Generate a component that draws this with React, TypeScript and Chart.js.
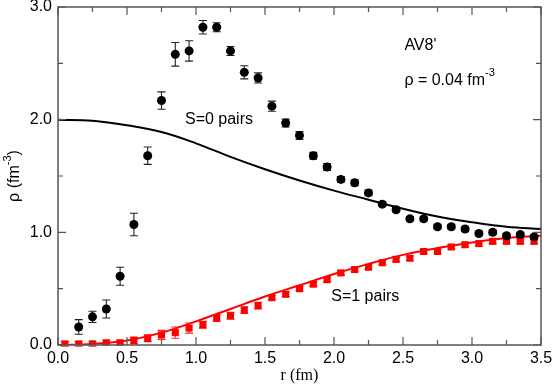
import React, { useEffect, useRef } from "react";
import { Chart, registerables } from "chart.js";

Chart.register(...registerables);

// S=0 pairs (black circles)
const s0X = [0.15, 0.25, 0.35, 0.45, 0.55, 0.65, 0.75, 0.85, 0.95, 1.05, 1.15, 1.25, 1.35, 1.45, 1.55, 1.65, 1.75, 1.85, 1.95, 2.05, 2.15, 2.25, 2.35, 2.45, 2.55, 2.65, 2.75, 2.85, 2.95, 3.05, 3.15, 3.25, 3.35, 3.45];
const s0Y = [0.16, 0.25, 0.32, 0.61, 1.07, 1.68, 2.17, 2.58, 2.61, 2.82, 2.82, 2.61, 2.42, 2.37, 2.12, 1.97, 1.86, 1.68, 1.58, 1.47, 1.44, 1.35, 1.25, 1.20, 1.12, 1.12, 1.05, 1.05, 1.03, 0.99, 1.00, 0.97, 0.98, 0.96];
const s0Err = [0.065, 0.05, 0.08, 0.08, 0.1, 0.077, 0.077, 0.105, 0.09, 0.06, 0.04, 0.04, 0.058, 0.045, 0.045, 0.035, 0.035, 0.03, 0.03, 0.025, 0.025, 0.025, 0.02, 0.02, 0.02, 0.02, 0.02, 0.02, 0.02, 0.02, 0.02, 0.02, 0.02, 0.02];

// S=1 pairs (red squares)
const s1X = [0.05, 0.15, 0.25, 0.35, 0.45, 0.55, 0.65, 0.75, 0.85, 0.95, 1.05, 1.15, 1.25, 1.35, 1.45, 1.55, 1.65, 1.75, 1.85, 1.95, 2.05, 2.15, 2.25, 2.35, 2.45, 2.55, 2.65, 2.75, 2.85, 2.95, 3.05, 3.15, 3.25, 3.35, 3.45];
const s1Y = [0.01, 0.01, 0.01, 0.02, 0.02, 0.04, 0.06, 0.09, 0.11, 0.15, 0.18, 0.24, 0.26, 0.31, 0.35, 0.42, 0.45, 0.50, 0.54, 0.58, 0.64, 0.67, 0.69, 0.73, 0.76, 0.77, 0.83, 0.83, 0.87, 0.89, 0.90, 0.92, 0.92, 0.92, 0.92];
const s1Err = [0.02, 0.02, 0.02, 0.02, 0.02, 0.03, 0.03, 0.04, 0.05, 0.045, 0.03, 0.03, 0.03, 0.03, 0.03, 0.02, 0.02, 0.02, 0.02, 0.02, 0.02, 0.02, 0.02, 0.02, 0.02, 0.02, 0.02, 0.02, 0.02, 0.02, 0.02, 0.02, 0.02, 0.02, 0.02];

// Solid curves
const curveX = [0, 0.25, 0.5, 0.75, 1.0, 1.25, 1.5, 1.75, 2.0, 2.25, 2.5, 2.75, 3.0, 3.25, 3.5];
const s0Curve = [2.0, 1.99, 1.95, 1.89, 1.79, 1.67, 1.56, 1.46, 1.37, 1.29, 1.21, 1.14, 1.09, 1.05, 1.03];
const s1Curve = [0.0, 0.01, 0.04, 0.11, 0.21, 0.32, 0.43, 0.53, 0.63, 0.72, 0.80, 0.86, 0.91, 0.95, 0.97];

// Axes ticks
const xMajor = [0, 0.5, 1.0, 1.5, 2.0, 2.5, 3.0, 3.5];
const xMinor = [0.25, 0.75, 1.25, 1.75, 2.25, 2.75, 3.25];
const yMajor = [0, 1, 2, 3];
const yMinor = [0.5, 1.5, 2.5];

const SANS = "'Liberation Sans', Arial, Helvetica, sans-serif";
const SERIF = "'Liberation Serif', 'Times New Roman', serif";
const FRAME = "#555";

const pts = (xs: number[], ys: number[]) => xs.map((x, i) => ({ x, y: ys[i] }));

function drawSup(ctx: CanvasRenderingContext2D, x: number, y: number, base: string, sup: string, tail: string, size: number) {
  ctx.font = `${size}px ${SANS}`;
  ctx.textAlign = "left";
  ctx.textBaseline = "middle";
  ctx.fillText(base, x, y);
  let w = ctx.measureText(base).width;
  ctx.font = `${Math.round(size * 0.68)}px ${SANS}`;
  ctx.fillText(sup, x + w, y - 7);
  w += ctx.measureText(sup).width;
  if (tail) {
    ctx.font = `${size}px ${SANS}`;
    ctx.fillText(tail, x + w, y);
  }
}

function measureSup(ctx: CanvasRenderingContext2D, base: string, sup: string, tail: string, size: number) {
  ctx.font = `${size}px ${SANS}`;
  let w = ctx.measureText(base).width + ctx.measureText(tail).width;
  ctx.font = `${Math.round(size * 0.68)}px ${SANS}`;
  w += ctx.measureText(sup).width;
  return w;
}

const errorBarPlugin = {
  id: "errorBars",
  beforeDatasetDraw(chart: any, args: any) {
    const ds = chart.data.datasets[args.index];
    if (!ds.errors) return;
    const ctx = chart.ctx;
    const xs = chart.scales.x;
    const ys = chart.scales.y;
    ctx.save();
    ctx.strokeStyle = ds.errColor;
    ctx.lineWidth = 1.1;
    ds.data.forEach((p: any, i: number) => {
      const e = ds.errors[i];
      const px = xs.getPixelForValue(p.x);
      const y1 = ys.getPixelForValue(p.y - e);
      const y2 = ys.getPixelForValue(p.y + e);
      ctx.beginPath();
      ctx.moveTo(px, y1);
      ctx.lineTo(px, y2);
      ctx.moveTo(px - 4, y1);
      ctx.lineTo(px + 4, y1);
      ctx.moveTo(px - 4, y2);
      ctx.lineTo(px + 4, y2);
      ctx.stroke();
    });
    ctx.restore();
  },
};

const framePlugin = {
  id: "frame",
  afterDraw(chart: any) {
    const ctx = chart.ctx;
    const { left, right, top, bottom } = chart.chartArea;
    const xs = chart.scales.x;
    const ys = chart.scales.y;
    ctx.save();
    ctx.strokeStyle = FRAME;
    ctx.lineWidth = 1.5;
    ctx.strokeRect(left, top, right - left, bottom - top);
    ctx.lineWidth = 1.2;
    ctx.beginPath();
    const xt = (v: number, len: number) => {
      const px = xs.getPixelForValue(v);
      ctx.moveTo(px, bottom);
      ctx.lineTo(px, bottom - len);
      ctx.moveTo(px, top);
      ctx.lineTo(px, top + len);
    };
    const yt = (v: number, len: number) => {
      const py = ys.getPixelForValue(v);
      ctx.moveTo(left, py);
      ctx.lineTo(left + len, py);
      ctx.moveTo(right, py);
      ctx.lineTo(right - len, py);
    };
    xMajor.forEach((v) => xt(v, 8));
    xMinor.forEach((v) => xt(v, 5));
    yMajor.forEach((v) => yt(v, 8));
    yMinor.forEach((v) => yt(v, 5));
    ctx.stroke();

    // annotations
    ctx.fillStyle = "#000";
    ctx.font = `16px ${SANS}`;
    ctx.textAlign = "left";
    ctx.textBaseline = "middle";
    ctx.fillText("S=0 pairs", xs.getPixelForValue(0.92), ys.getPixelForValue(2.0));
    ctx.fillText("S=1 pairs", xs.getPixelForValue(1.98), ys.getPixelForValue(0.43));
    ctx.fillText("AV8'", xs.getPixelForValue(2.51), ys.getPixelForValue(2.66));
    drawSup(ctx, xs.getPixelForValue(2.51), ys.getPixelForValue(2.35), "\u03c1 = 0.04 fm", "-3", "", 16);

    // axis titles
    ctx.font = `16px ${SERIF}`;
    ctx.textAlign = "center";
    ctx.textBaseline = "middle";
    ctx.fillText("r (fm)", (left + right) / 2, 376);

    ctx.save();
    ctx.translate(15, (top + bottom) / 2);
    ctx.rotate(-Math.PI / 2);
    const w = measureSup(ctx, "\u03c1 (fm", "-3", ")", 16);
    drawSup(ctx, -w / 2, 0, "\u03c1 (fm", "-3", ")", 16);
    ctx.restore();
    ctx.restore();
  },
};

export default function App() {
  const ref = useRef<HTMLCanvasElement | null>(null);
  useEffect(() => {
    if (!ref.current) return;
    Chart.defaults.font.family = SANS;
    const chart = new Chart(ref.current, {
      type: "scatter",
      data: {
        datasets: [
          {
            label: "S=0 data",
            data: pts(s0X, s0Y),
            pointStyle: "circle",
            pointRadius: 4.5,
            pointBackgroundColor: "#000",
            pointBorderWidth: 0,
            order: 0,
            errors: s0Err,
            errColor: "#222",
          } as any,
          {
            type: "line",
            label: "S=0 curve",
            data: pts(curveX, s0Curve),
            borderColor: "#000",
            borderWidth: 2,
            pointRadius: 0,
            tension: 0.4,
            fill: false,
            order: 1,
          } as any,
          {
            label: "S=1 data",
            data: pts(s1X, s1Y),
            pointStyle: "rect",
            pointRadius: 5,
            pointBackgroundColor: "#ff0000",
            pointBorderWidth: 0,
            order: 2,
            errors: s1Err,
            errColor: "#ff2020",
          } as any,
          {
            type: "line",
            label: "S=1 curve",
            data: pts(curveX, s1Curve),
            borderColor: "#ff0000",
            borderWidth: 2,
            pointRadius: 0,
            tension: 0.4,
            fill: false,
            order: 3,
          } as any,
        ],
      },
      options: {
        responsive: false,
        animation: false,
        layout: { padding: { top: 7, right: 13, left: 0, bottom: 0 } },
        plugins: { legend: { display: false }, tooltip: { enabled: false } },
        scales: {
          x: {
            type: "linear",
            min: 0,
            max: 3.5,
            grid: { display: false, drawTicks: false },
            border: { display: false },
            afterBuildTicks: (s: any) => {
              s.ticks = xMajor.map((v) => ({ value: v }));
            },
            afterFit: (s: any) => {
              s.height = 40;
              s.paddingLeft = 0;
              s.paddingRight = 0;
            },
            ticks: {
              padding: 4,
              color: "#000",
              font: { size: 16 },
              maxRotation: 0,
              callback: (v: any) => Number(v).toFixed(1),
            },
          },
          y: {
            type: "linear",
            min: 0,
            max: 3,
            grid: { display: false, drawTicks: false },
            border: { display: false },
            afterBuildTicks: (s: any) => {
              s.ticks = yMajor.map((v) => ({ value: v }));
            },
            afterFit: (s: any) => {
              s.width = 58;
              s.paddingTop = 0;
              s.paddingBottom = 0;
            },
            ticks: {
              padding: 6,
              color: "#000",
              font: { size: 16 },
              callback: (v: any) => Number(v).toFixed(1),
            },
          },
        },
      } as any,
      plugins: [errorBarPlugin, framePlugin],
    });
    return () => chart.destroy();
  }, []);
  return (
    <div style={{ position: "absolute", left: 0, top: 0, width: 554, height: 385, background: "#fff" }}>
      <canvas ref={ref} width={554} height={385} />
    </div>
  );
}
